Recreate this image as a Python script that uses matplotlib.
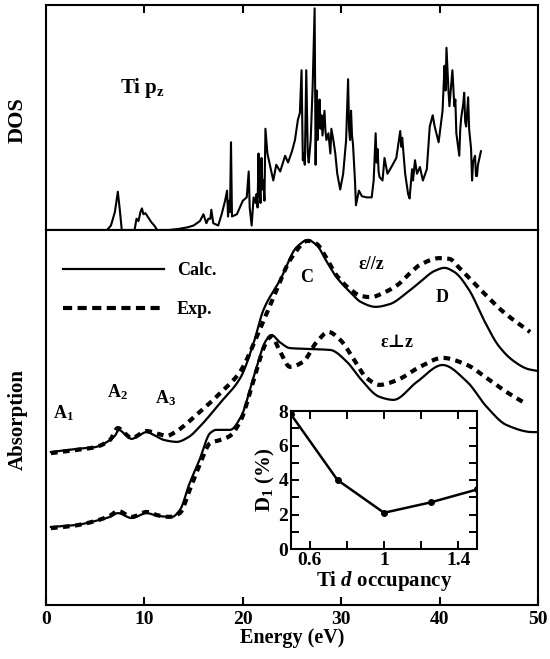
import matplotlib
matplotlib.use("Agg")
import matplotlib.pyplot as plt
from matplotlib.lines import Line2D
import numpy as np

plt.rcParams['font.family'] = ['Liberation Serif', 'DejaVu Serif']
plt.rcParams['font.weight'] = 'bold'
plt.rcParams['mathtext.fontset'] = 'custom'
plt.rcParams['mathtext.rm'] = 'Liberation Serif:bold'
plt.rcParams['mathtext.bf'] = 'Liberation Serif:bold'
plt.rcParams['mathtext.it'] = 'Liberation Serif:italic:bold'

# ---------------- DOS (Ti p_z) ----------------
dos_E = [0, 6.2, 6.6, 7.0, 7.3, 7.5, 7.7, 9.0, 9.2, 9.4,
         9.6, 9.75, 9.9, 10.1, 10.4, 10.7, 11.0, 11.3, 12.5, 13.5,
         14.4, 15.0, 15.65, 16.0, 16.3, 16.5, 16.7, 16.8, 17.0, 17.5,
         17.85, 18.2, 18.4, 18.5, 18.6, 18.7, 18.8, 18.9, 19.4, 20.0,
         20.4, 20.6, 20.7, 20.9, 21.1, 21.3, 21.4, 21.5, 21.6, 21.65,
         21.7, 21.8, 21.9, 22.0, 22.1, 22.2, 22.3, 22.5, 22.8, 23.1,
         23.4, 23.8, 24.3, 24.6, 25.0, 25.3, 25.6, 25.8, 25.97, 26.1,
         26.2, 26.3, 26.45, 26.6, 26.7, 26.9, 27.1, 27.3, 27.4, 27.5,
         27.6, 27.7, 27.8, 27.9, 28.0, 28.1, 28.3, 28.4, 28.5, 28.7,
         28.9, 29.0, 29.2, 29.4, 29.6, 29.9, 30.2, 30.5, 30.7, 30.8,
         30.9, 31.0, 31.1, 31.2, 31.4, 31.5, 31.8, 32.1, 32.6, 33.1,
         33.3, 33.5, 33.6, 33.7, 33.8, 33.9, 34.2, 34.4, 34.7, 35.1,
         35.6, 36.0, 36.1, 36.2, 36.5, 36.8, 36.95, 37.2, 37.3, 37.5,
         37.7, 38.0, 38.3, 38.7, 39.0, 39.3, 39.5, 39.9, 40.3, 40.5,
         40.6, 40.7, 40.9, 41.0, 41.2, 41.3, 41.5, 41.6, 41.7, 41.85,
         42.0, 42.1, 42.2, 42.4, 42.5, 42.6, 42.7, 42.9, 43.0, 43.2,
         43.3, 43.4, 43.6, 43.7, 43.8, 43.9, 44.2]
dos_h = [0, 0, 0.02, 0.08, 0.17, 0.09, 0.0, 0.0, 0.05, 0.04,
         0.08, 0.096, 0.07, 0.075, 0.055, 0.035, 0.02, 0.0, 0.0, 0.005,
         0.012, 0.02, 0.04, 0.07, 0.03, 0.05, 0.05, 0.09, 0.03, 0.02,
         0.07, 0.13, 0.175, 0.06, 0.13, 0.08, 0.39, 0.06, 0.07, 0.13,
         0.145, 0.26, 0.10, 0.02, 0.145, 0.12, 0.16, 0.10, 0.34, 0.15,
         0.205, 0.12, 0.32, 0.18, 0.22, 0.13, 0.45, 0.34, 0.28, 0.22,
         0.29, 0.26, 0.33, 0.30, 0.35, 0.40, 0.49, 0.52, 0.71, 0.31,
         0.34, 0.29, 0.71, 0.34, 0.30, 0.40, 0.64, 0.985, 0.29, 0.62,
         0.40, 0.50, 0.58, 0.45, 0.51, 0.42, 0.53, 0.44, 0.40, 0.43,
         0.34, 0.45, 0.40, 0.34, 0.25, 0.18, 0.25, 0.40, 0.67, 0.45,
         0.40, 0.53, 0.42, 0.38, 0.22, 0.11, 0.175, 0.15, 0.145, 0.145,
         0.22, 0.43, 0.30, 0.36, 0.26, 0.235, 0.22, 0.32, 0.25, 0.28,
         0.32, 0.44, 0.37, 0.41, 0.25, 0.16, 0.14, 0.27, 0.22, 0.31,
         0.25, 0.28, 0.22, 0.27, 0.46, 0.51, 0.46, 0.39, 0.53, 0.73,
         0.62, 0.81, 0.62, 0.55, 0.66, 0.71, 0.55, 0.58, 0.43, 0.38,
         0.33, 0.45, 0.50, 0.56, 0.61, 0.48, 0.46, 0.59, 0.45, 0.36,
         0.22, 0.30, 0.33, 0.24, 0.24, 0.29, 0.35]

# ---------------- Absorption, E // z ----------------
par_calc_E = [0.5, 3, 5, 6, 7, 7.4, 8.0, 8.7, 9.5, 10.2, 11.0, 12.0, 13.3, 14.5, 15.6, 17.7,
              19.8, 21.1, 22.1, 23.8, 25.5, 26.6, 27.5, 28.5, 29.5, 31, 32, 33.5, 35, 36.5,
              38, 39.5, 40.5, 41.5, 43, 44.5, 46, 47.5, 49, 50]
par_calc_A = [40.8, 41.6, 42.1, 43.2, 45.1, 46.7, 45.6, 44.3, 45.3, 46.1, 45.3, 44.0, 43.5, 44.8,
              47.5, 53.9, 60.8, 69.9, 78.7, 86.7, 95.5, 97.3, 96.0, 91.7, 87.5, 83.2, 80.8,
              79.5, 80.3, 82.9, 86.1, 89.1, 89.9, 88.8, 84.0, 76.0, 69.1, 65.1, 62.9, 62.4]
par_exp_E = [0.5, 3, 5, 6.5, 7.3, 8.0, 8.7, 10.2, 11.2, 12.3, 13.0, 15.3, 17.7, 19.7, 21.5, 23,
             25, 26.6, 27.5, 28.5, 29.5, 31, 32, 33, 34.5, 35.7, 37, 38, 40, 41, 42, 44,
             46.5, 49.2]
par_exp_A = [40.5, 41.3, 42.1, 44.0, 47.2, 45.8, 44.5, 46.4, 45.8, 45.1, 45.9, 50.7, 56.5, 62.1,
             72.0, 81.3, 92.8, 97.1, 96.3, 92.5, 88.0, 84.0, 82.4, 82.1, 83.5, 85.3, 88.5,
             90.7, 92.5, 92.3, 89.9, 84.5, 78.1, 72.8]

# ---------------- Absorption, E perp z ----------------
perp_calc_E = [0.5, 3, 5, 6.5, 7.3, 8.7, 10.2, 11.5, 12.8, 13.6, 14.6, 15.6, 16.7, 17.3, 18.7,
               19.8, 21.1, 22.4, 22.9, 23.8, 24.8, 26.5, 28.9, 30.6, 31.9, 33.9, 35.3, 37.7,
               40.3, 42.8, 44.8, 46.8, 49.5, 50]
perp_calc_A = [20.8, 21.3, 22.4, 23.5, 24.5, 23.2, 24.5, 23.7, 23.5, 25.3, 32.5, 38.7, 45.9,
               46.7, 46.7, 50.1, 60.8, 70.7, 72.0, 70.0, 68.5, 68.3, 68.0, 64.8, 60.5, 55.5,
               54.7, 59.5, 64.0, 59.5, 52.8, 48.0, 46.1, 46.1]
perp_exp_E = [0.5, 3, 5, 6.5, 7.3, 8.7, 10.2, 11.4, 12.5, 13.6, 14.6, 15.6, 16.7, 17.7, 18.7,
              19.8, 21.1, 22.4, 22.9, 23.8, 24.8, 26.1, 27.5, 28.7, 29.9, 31.2, 32.6, 33.9,
              35.7, 38, 40.3, 42.8, 44.8, 46.8, 48.5]
perp_exp_A = [20.5, 21.2, 22.4, 23.8, 25.1, 23.5, 24.8, 23.9, 23.5, 24.5, 30.7, 37.3, 43.2,
              44.0, 45.1, 49.3, 60.0, 70.1, 71.7, 67.5, 63.5, 64.8, 70.1, 72.8, 70.7, 65.9,
              60.5, 58.7, 60.0, 63.5, 65.9, 64.0, 60.5, 56.8, 54.1]

# ---------------- Inset ----------------
occ = [0.5, 0.75, 1.0, 1.25, 1.5]
d1 = [7.8, 4.0, 2.1, 2.7, 3.45]

energy_ticks = [0, 10, 20, 30, 40, 50]


def smooth(x, y, n=400):
    """Monotone cubic (PCHIP-style) curve through the read points."""
    x = np.asarray(x, float)
    y = np.asarray(y, float)
    xs = np.linspace(x[0], x[-1], n)
    h = np.diff(x)
    d = np.diff(y) / h
    m = np.zeros_like(y)
    m[0], m[-1] = d[0], d[-1]
    for i in range(1, len(x) - 1):
        if d[i - 1] * d[i] <= 0:
            m[i] = 0
        else:
            w1 = 2 * h[i] + h[i - 1]
            w2 = h[i] + 2 * h[i - 1]
            m[i] = (w1 + w2) / (w1 / d[i - 1] + w2 / d[i])
    idx = np.clip(np.searchsorted(x, xs) - 1, 0, len(x) - 2)
    t = (xs - x[idx]) / h[idx]
    h00 = 2 * t**3 - 3 * t**2 + 1
    h10 = t**3 - 2 * t**2 + t
    h01 = -2 * t**3 + 3 * t**2
    h11 = t**3 - t**2
    ys = h00 * y[idx] + h10 * h[idx] * m[idx] + h01 * y[idx + 1] + h11 * h[idx] * m[idx + 1]
    return xs, ys


fig = plt.figure(figsize=(5.5, 6.59), dpi=100)
L, R = 46 / 550, 538 / 550
ax_top = fig.add_axes([L, 1 - 230 / 659, R - L, 225 / 659])
ax_bot = fig.add_axes([L, 1 - 605 / 659, R - L, 375 / 659])

for ax in (ax_top, ax_bot):
    for s in ax.spines.values():
        s.set_linewidth(1.5)
    ax.set_xlim(0, 50)
    ax.set_yticks([])

# Top DOS
ax_top.plot(dos_E, dos_h, color='black', lw=1.5)
ax_top.set_ylim(0, 1.0)
ax_top.set_xticks(energy_ticks[1:-1])
ax_top.xaxis.set_ticks_position('top')
ax_top.tick_params(axis='x', direction='in', top=True, bottom=False, labeltop=False,
                   labelbottom=False, length=6, width=1.5)
ax_top.text(9.8, 0.63, r'Ti p$_\mathbf{z}$', fontsize=15, fontweight='bold',
            ha='center', va='center')

# Bottom absorption
ax_bot.set_ylim(0, 100)
ls_dash = (0, (1.6, 1.3))
x, y = smooth(par_calc_E, par_calc_A)
ax_bot.plot(x, y, color='black', lw=1.6)
x, y = smooth(par_exp_E, par_exp_A)
ax_bot.plot(x, y, color='black', lw=3.0, linestyle=ls_dash)
x, y = smooth(perp_calc_E, perp_calc_A)
ax_bot.plot(x, y, color='black', lw=1.6)
x, y = smooth(perp_exp_E, perp_exp_A)
ax_bot.plot(x, y, color='black', lw=3.0, linestyle=ls_dash)

ax_bot.set_xticks(energy_ticks)
ax_bot.set_xticklabels([str(t) for t in energy_ticks], fontsize=14, fontweight='bold')
ax_bot.tick_params(axis='x', direction='in', length=6, width=1.5, pad=4)

handles = [Line2D([], [], color='black', lw=1.6),
           Line2D([], [], color='black', lw=3.0, linestyle=(0, (2.2, 1.3)))]
ax_bot.legend(handles, ['Calc.', 'Exp.'], loc='upper left', bbox_to_anchor=(0.035, 0.915),
              frameon=False, handlelength=5.6, handletextpad=0.7,
              labelspacing=1.25, borderpad=0, borderaxespad=0,
              prop={'weight': 'bold', 'size': 13})

ann_kw = dict(fontsize=13, fontweight='bold', ha='center', va='center')
ax_bot.text(1.8, 51.2, r'A$_\mathbf{1}$', **ann_kw)
ax_bot.text(7.3, 56.8, r'A$_\mathbf{2}$', **ann_kw)
ax_bot.text(12.1, 55.2, r'A$_\mathbf{3}$', **ann_kw)
ax_bot.text(26.5, 87.2, 'C', **ann_kw)
ax_bot.text(40.3, 82.1, 'D', **ann_kw)
ax_bot.text(33.1, 90.7, 'ε//z', **ann_kw)
ax_bot.text(35.7, 69.9, 'ε⊥z', fontsize=13, fontweight='bold', ha='center', va='center',
            family=['Liberation Serif', 'DejaVu Serif'])

# Axis labels
fig.text(18 / 550, 1 - 120 / 659, 'DOS', rotation=90, fontsize=16, fontweight='bold',
         ha='center', va='center')
fig.text(18 / 550, 1 - 420 / 659, 'Absorption', rotation=90, fontsize=15, fontweight='bold',
         ha='center', va='center')
fig.text(292 / 550, 1 - 638 / 659, 'Energy (eV)', fontsize=14.5, fontweight='bold',
         ha='center', va='center')

# Inset
ax_in = fig.add_axes([291 / 550, 1 - 549 / 659, 186 / 550, 138 / 659])
for s in ax_in.spines.values():
    s.set_linewidth(1.5)
ax_in.plot(occ, d1, color='black', lw=1.8, marker='o', markersize=4)
ax_in.set_xlim(0.5, 1.5)
ax_in.set_ylim(0, 8)
ax_in.set_xticks([0.6, 1.0, 1.4])
ax_in.set_xticklabels(['0.6', '1', '1.4'], fontsize=14, fontweight='bold')
ax_in.set_xticks([0.8, 1.2], minor=True)
ax_in.set_yticks([0, 2, 4, 6, 8])
ax_in.set_yticklabels(['0', '2', '4', '6', '8'], fontsize=14, fontweight='bold')
ax_in.set_yticks([1, 3, 5, 7], minor=True)
ax_in.tick_params(which='both', direction='in', top=True, right=True, width=1.4)
ax_in.tick_params(which='major', length=6, pad=2)
ax_in.tick_params(which='minor', length=6)
ax_in.set_xlabel(r'Ti $\mathit{d}$ occupancy', fontsize=15, fontweight='bold', labelpad=0)
ax_in.set_ylabel(r'D$_\mathbf{1}$ (%)', fontsize=15, fontweight='bold', labelpad=1)

fig.savefig('out.png', dpi=100)
